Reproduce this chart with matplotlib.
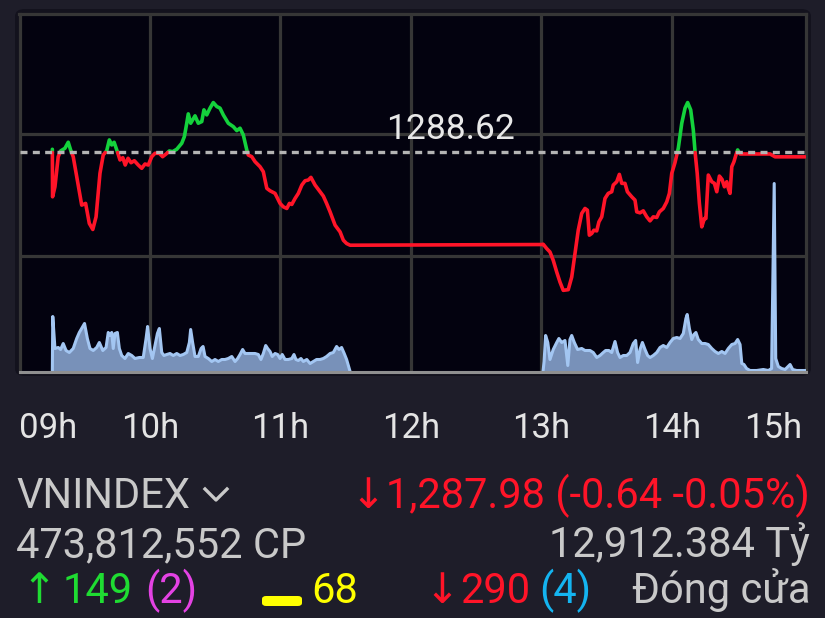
import numpy as np
import matplotlib.pyplot as plt
from matplotlib.patches import FancyBboxPatch
from matplotlib.lines import Line2D

plt.rcParams['font.family'] = ['Roboto', 'DejaVu Sans']

# reference (previous close) and session texts
ref_close = 1288.62
index_name = "VNINDEX"
last_text = "↓1,287.98 (-0.64 -0.05%)"
volume_text = "473,812,552 CP"
value_text = "12,912.384 Tỷ"
status_text = "Đóng cửa"
n_up, n_ceil = "149", "(2)"
n_flat = "68"
n_down, n_floor = "290", "(4)"

hour_ticks = [9, 10, 11, 12, 13, 14, 15]
hour_labels = ["09h", "10h", "11h", "12h", "13h", "14h", "15h"]

# index level, minutes after 09:00
price_time = [15.1, 15.2, 16.3, 17.8, 18.9, 20.9, 22.4, 23.5, 24.7, 26.3,
              28.6, 30.4, 32.1, 33.7, 35.2, 37.0, 38.5, 40.1, 41.3, 42.4,
              43.5, 45.0, 46.2, 47.5, 48.6, 49.9, 51.3, 52.8, 54.6, 56.2,
              57.7, 59.2, 60.8, 62.3, 64.3, 65.8, 67.4, 68.9, 70.4, 72.3,
              74.6, 75.8, 76.9, 77.6, 78.7, 80.7, 82.2, 83.8, 84.8, 86.1,
              87.6, 89.1, 90.7, 92.2, 93.7, 96.0, 98.3, 99.9, 101.4, 102.9,
              104.5, 105.2, 106.8, 108.3, 110.6, 112.1, 113.7, 115.2, 117.5, 119.8,
              121.3, 122.9, 124.1, 125.2, 126.7, 128.2, 129.8, 131.3, 132.8, 134.0,
              135.9, 138.2, 139.7, 141.2, 142.8, 145.1, 147.4, 148.9, 150.4, 152.0,
              240.0,
              240.8, 242.4, 243.9, 245.4, 247.0, 248.5, 250.0, 252.3, 253.9, 255.4,
              256.9, 258.5, 260.0, 261.1, 262.0, 263.1, 264.1, 265.4, 266.4, 267.7,
              269.2, 270.7, 272.3, 273.0, 274.6, 275.8, 276.9, 278.4, 279.5, 281.5,
              283.0, 283.8, 285.3, 286.8, 288.4, 289.9, 291.4, 293.0, 294.2, 296.0,
              297.6, 298.8, 299.9, 301.4, 302.9, 304.5, 306.0, 307.2, 308.6, 309.8,
              310.6, 311.6, 312.6, 313.7, 314.9, 315.6, 316.7, 318.3, 319.5, 320.6,
              321.8, 323.0, 324.1, 325.2, 325.9, 326.7, 327.5, 328.5, 329.4, 330.2,
              331.3, 345.1, 347.4, 361.2]
price_value = [1289.09, 1282.12, 1283.59, 1288.00, 1288.84, 1289.24, 1290.12, 1288.99, 1288.00, 1285.06,
               1280.90, 1281.15, 1278.21, 1277.33, 1279.18, 1285.56, 1288.25, 1288.88, 1290.46, 1289.72,
               1290.12, 1288.74, 1287.52, 1287.86, 1286.78, 1287.77, 1287.12, 1287.41, 1286.78, 1286.30,
               1286.93, 1286.78, 1288.00, 1288.50, 1288.50, 1288.00, 1288.40, 1288.84, 1288.74, 1289.09,
               1289.97, 1290.94, 1292.91, 1294.28, 1292.91, 1293.99, 1292.91, 1293.15, 1294.87, 1294.13,
               1295.12, 1295.94, 1295.36, 1295.12, 1294.13, 1292.91, 1292.41, 1291.83, 1292.18, 1291.19,
               1288.99, 1288.25, 1288.00, 1287.27, 1286.53, 1285.80, 1283.36, 1283.00, 1282.62, 1281.15,
               1280.65, 1280.41, 1281.15, 1281.00, 1281.88, 1282.62, 1283.84, 1284.47, 1284.58, 1284.97,
               1283.84, 1282.86, 1282.22, 1281.15, 1279.91, 1277.96, 1276.97, 1275.75, 1275.27, 1275.02,
               1275.12,
               1275.16, 1274.53, 1274.03, 1272.81, 1271.09, 1269.62, 1268.40, 1268.50, 1270.35, 1273.80,
               1277.22, 1279.68, 1280.41, 1280.16, 1276.49, 1276.74, 1277.22, 1277.12, 1278.44, 1279.18,
               1281.88, 1282.62, 1282.86, 1283.84, 1284.33, 1285.41, 1284.09, 1284.09, 1282.86, 1282.12,
               1281.63, 1279.91, 1279.77, 1280.06, 1279.18, 1278.59, 1279.18, 1279.09, 1279.91, 1280.41,
               1281.38, 1282.62, 1285.56, 1287.15, 1289.24, 1292.91, 1295.12, 1295.94, 1294.87, 1291.93,
               1288.74, 1285.56, 1281.15, 1277.71, 1278.94, 1278.94, 1285.31, 1284.33, 1284.09, 1282.86,
               1285.16, 1284.68, 1283.59, 1284.33, 1283.36, 1282.62, 1286.53, 1287.27, 1288.25, 1288.99,
               1288.40, 1288.40, 1287.98, 1287.98]

# matched volume (million shares per minute)
vol_am_time = [15.1, 15.3, 16.3, 17.8, 18.9, 20.1, 21.4, 22.9, 24.7, 26.3,
               27.5, 29.1, 29.9, 31.2, 32.4, 33.9, 35.5, 36.7, 38.3, 39.8,
               40.8, 41.6, 42.4, 43.1, 43.9, 45.0, 45.9, 47.0, 48.5, 50.0,
               51.6, 53.1, 55.1, 56.9, 58.2, 58.9, 60.0, 61.1, 62.3, 63.4,
               64.3, 65.4, 66.4, 67.7, 69.2, 70.7, 72.3, 73.8, 75.3, 76.9,
               78.1, 78.7, 79.6, 80.7, 82.2, 83.5, 84.4, 85.3, 86.8, 88.4,
               89.9, 91.4, 93.0, 94.5, 96.0, 97.6, 99.1, 100.3, 101.4, 102.6,
               103.7, 105.2, 106.8, 108.3, 109.8, 111.0, 112.1, 113.2, 114.1, 115.2,
               116.2, 117.5, 118.7, 119.8, 120.8, 122.1, 123.6, 125.2, 126.2, 127.1,
               128.2, 129.4, 130.5, 132.1, 133.6, 135.1, 136.6, 138.2, 139.7, 141.2,
               142.8, 144.3, 145.8, 146.9, 148.1, 149.3, 150.4, 152.0]
vol_am = [0.0, 5.5, 2.3, 2.4, 2.2, 2.8, 2.1, 1.9, 2.3, 3.3,
          3.9, 4.5, 4.8, 3.3, 2.3, 2.1, 2.4, 2.9, 2.1, 2.4,
          3.9, 3.6, 3.9, 2.3, 3.8, 3.9, 2.3, 1.6, 1.3, 1.8,
          1.6, 1.3, 1.4, 1.4, 3.3, 4.5, 2.3, 1.3, 2.6, 3.8,
          4.3, 1.9, 1.6, 1.7, 1.8, 1.6, 1.8, 1.6, 1.7, 1.9,
          2.9, 4.2, 2.9, 1.5, 1.5, 2.3, 2.5, 1.5, 1.3, 1.0,
          1.2, 1.0, 1.2, 1.2, 1.3, 1.5, 1.0, 1.3, 1.7, 2.2,
          1.8, 1.8, 1.8, 1.8, 1.7, 1.2, 1.8, 2.6, 2.3, 2.0,
          1.5, 1.8, 1.7, 1.3, 1.7, 1.2, 1.2, 1.3, 1.7, 1.2,
          1.1, 1.3, 1.0, 1.2, 0.8, 1.0, 1.2, 1.2, 1.3, 1.5,
          1.8, 1.9, 2.5, 2.2, 2.4, 1.8, 1.2, 0.0]
vol_pm_time = [240.7, 241.2, 241.9, 242.9, 243.9, 245.4, 247.0, 248.0, 249.3, 250.8,
               252.1, 253.1, 253.9, 255.1, 256.6, 258.5, 260.0, 262.3, 263.8, 265.4,
               266.9, 268.4, 269.5, 271.0, 272.3, 273.8, 275.0, 276.1, 277.6, 279.2,
               280.7, 282.2, 283.3, 284.2, 285.3, 286.4, 287.6, 288.8, 289.9, 291.4,
               293.0, 294.5, 296.0, 297.6, 299.1, 300.6, 302.2, 303.7, 305.2, 306.4,
               307.0, 308.0, 309.1, 310.1, 311.0, 312.1, 313.7, 315.2, 316.7, 318.3,
               319.8, 321.3, 322.9, 324.4, 325.9, 327.5, 329.0, 330.2, 331.3, 332.1,
               333.1, 334.3, 335.9, 338.9, 342.0, 344.3, 345.8, 347.0, 347.7, 348.9,
               350.4, 352.0, 354.3, 355.5, 357.3, 361.2]
vol_pm = [0.0, 1.0, 3.6, 2.9, 1.2, 2.2, 2.9, 3.3, 2.9, 3.1,
          0.6, 3.2, 3.6, 2.9, 2.2, 2.3, 2.1, 2.1, 1.9, 1.4,
          1.6, 1.9, 2.1, 2.1, 1.9, 3.0, 1.9, 1.4, 1.6, 1.6,
          1.9, 2.8, 3.1, 0.9, 2.2, 2.9, 2.2, 1.6, 1.4, 1.6,
          1.9, 2.4, 2.6, 2.4, 2.9, 3.3, 3.4, 3.3, 3.8, 5.3,
          5.7, 4.3, 3.2, 3.7, 3.9, 3.2, 2.8, 2.8, 2.7, 2.3,
          2.0, 1.8, 2.0, 1.8, 2.3, 2.7, 2.8, 3.2, 2.7, 0.8,
          0.7, 0.3, 0.1, 0.1, 0.2, 0.1, 0.3, 18.8, 1.3, 0.5,
          0.3, 0.2, 0.7, 0.2, 0.1, 0.1]

BG = '#1e1d29'
GRID = '#363636'
RED = '#ff1428'
GREEN = '#14d23c'
GREY_TXT = '#c9c9c9'


def px(x, y):
    # pixel position (from top-left) -> figure fraction
    return x / 825, 1 - y / 618


def main():
    fig = plt.figure(figsize=(8.25, 6.18), dpi=100, facecolor=BG)

    # rounded chart panel
    x0, y0 = px(15, 376)
    x1, y1 = px(811, 9)
    panel = FancyBboxPatch((x0, y0), x1 - x0, y1 - y0, transform=fig.transFigure,
                           boxstyle='round,pad=0,rounding_size=0.012',
                           facecolor='#13121d', edgecolor='none', zorder=-1)
    fig.patches.append(panel)

    l, b = px(19.5, 371.5)
    ax = fig.add_axes([l, b, 786.5 / 825, 358 / 618])
    ax.set_facecolor('#03020f')
    ax.set_xlim(9, 15.027)
    ax.set_ylim(1256.5, 1309.0)

    for h in hour_ticks[1:-1]:
        ax.axvline(h, color=GRID, lw=2.3, zorder=1)
    for lev in [1273.5, 1291.3]:
        ax.axhline(lev, color=GRID, lw=2.3, zorder=1)
    for s in ['left', 'top', 'right']:
        ax.spines[s].set_color(GRID)
        ax.spines[s].set_linewidth(2.3)
    ax.spines['bottom'].set_visible(False)
    ax.set_yticks([])

    ax.set_xticks(hour_ticks)
    ax.set_xticklabels(hour_labels)
    ax.tick_params(axis='x', length=0, pad=29, labelsize=25, labelcolor='#e4e4e4')
    labs = ax.get_xticklabels()
    labs[0].set_ha('left')
    labs[-1].set_ha('right')

    # price line, green above the reference and red below
    t = 9 + np.array(price_time) / 60
    p = np.array(price_value)
    tt, pp = [t[0]], [p[0]]
    for i in range(1, len(t)):
        a, c = p[i - 1] - ref_close, p[i] - ref_close
        if a * c < 0:
            f = a / (a - c)
            tt.append(t[i - 1] + f * (t[i] - t[i - 1]))
            pp.append(ref_close)
        tt.append(t[i])
        pp.append(p[i])
    tt, pp = np.array(tt), np.array(pp)
    ax.plot(tt, np.where(pp >= ref_close, pp, np.nan), color=GREEN, lw=2.6,
            solid_joinstyle='round', solid_capstyle='round', zorder=3)
    ax.plot(tt, np.where(pp <= ref_close, pp, np.nan), color=RED, lw=2.6,
            solid_joinstyle='round', solid_capstyle='round', zorder=3)

    ax.axhline(ref_close, color='#b4b4b4', lw=2.4, dashes=(2.1, 1.6), zorder=4)
    ax.annotate(f"{ref_close:.2f}", xy=(12.305, ref_close), xytext=(0, 9.5),
                textcoords='offset points', ha='center', va='baseline',
                fontsize=25.5, color='#e8e8e8')

    # volume on its own scale in the lower part
    axv = ax.twinx()
    axv.set_ylim(0, 35.8)
    axv.axis('off')
    for vt, vv in [(vol_am_time, vol_am), (vol_pm_time, vol_pm)]:
        x = 9 + np.array(vt) / 60
        axv.fill_between(x, vv, 0, color='#7891b9', lw=0, zorder=2)
        axv.plot(x, vv, color='#a3c6f2', lw=2.2, solid_joinstyle='round', zorder=3)
    axv.axhline(0, color='#8f8f8f', lw=2.2, zorder=5, clip_on=False)

    # summary block
    fs = 30
    fig.text(*px(16, 508), index_name, fontsize=fs, color=GREY_TXT, va='baseline')
    cx = [px(205, 489), px(216, 500), px(227, 489)]
    fig.add_artist(Line2D([c[0] for c in cx], [c[1] for c in cx], color=GREY_TXT,
                          lw=2.4, transform=fig.transFigure))
    fig.text(*px(810, 508), last_text, fontsize=fs, color=RED, va='baseline', ha='right')
    fig.text(*px(16, 557), volume_text, fontsize=fs, color=GREY_TXT, va='baseline')
    fig.text(*px(810, 557), value_text, fontsize=fs, color=GREY_TXT, va='baseline', ha='right')

    fig.text(*px(21, 603), "↑", fontsize=fs, color='#1fdc32', va='baseline')
    fig.text(*px(63, 603), n_up, fontsize=fs, color='#1fdc32', va='baseline')
    fig.text(*px(145, 603), n_ceil, fontsize=fs, color='#e442e4', va='baseline')
    bx, by = px(262, 606)
    bar = FancyBboxPatch((bx, by), 40 / 825, 10 / 618, transform=fig.transFigure,
                         boxstyle='round,pad=0,rounding_size=0.005',
                         facecolor='#ffff00', edgecolor='none')
    fig.patches.append(bar)
    fig.text(*px(311, 603), n_flat, fontsize=fs, color='#ffff00', va='baseline')
    fig.text(*px(424, 603), "↓", fontsize=fs, color=RED, va='baseline')
    fig.text(*px(460, 603), n_down, fontsize=fs, color=RED, va='baseline')
    fig.text(*px(539, 603), n_floor, fontsize=fs, color='#14b4f0', va='baseline')
    fig.text(*px(810, 603), status_text, fontsize=fs, color=GREY_TXT, va='baseline', ha='right')

    fig.savefig('out.png', dpi=100, facecolor=BG)


if __name__ == "__main__":
    main()
